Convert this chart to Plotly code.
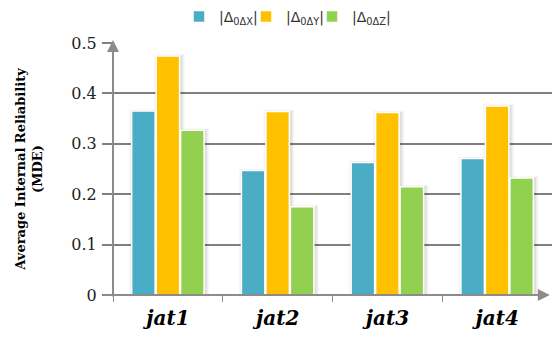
import plotly.graph_objects as go

categories = ["jat1", "jat2", "jat3", "jat4"]
dx_values = [0.365, 0.247, 0.263, 0.271]
dy_values = [0.474, 0.364, 0.362, 0.375]
dz_values = [0.327, 0.175, 0.215, 0.232]
series_names = ["|Δ<sub>0ΔX</sub>|", "|Δ<sub>0ΔY</sub>|", "|Δ<sub>0ΔZ</sub>|"]
series_colors = ["#4BACC6", "#FFC000", "#92D050"]

axis_gray = "#8C8C8C"
grid_gray = "#7F7F7F"

bar_width = 0.214
bar_pitch = 0.223
legend_ids = ["legend", "legend2", "legend3"]
legend_x_px = [179, 246, 312]   # left edge of each legend box, in px

fig = go.Figure()
all_values = [dx_values, dy_values, dz_values]

# soft drop shadow behind each bar
for i, vals in enumerate(all_values):
    center = (i - 1) * bar_pitch
    for grow, alpha in [(0.07, 0.03), (0.045, 0.045), (0.025, 0.055)]:
        w = bar_width + grow
        fig.add_trace(go.Bar(
            x=categories, y=[v + grow * 0.05 for v in vals],
            width=w, offset=center - w / 2 + 0.012,
            marker=dict(color=f"rgba(0,0,0,{alpha})", line=dict(width=0)),
            showlegend=False, hoverinfo="skip",
        ))

for i, (name, vals, col) in enumerate(zip(series_names, all_values, series_colors)):
    center = (i - 1) * bar_pitch
    fig.add_trace(go.Bar(
        x=categories, y=vals, name=name,
        width=bar_width, offset=center - bar_width / 2,
        marker=dict(color=col, line=dict(color="white", width=1.5)),
        legend=legend_ids[i],
    ))

legend_common = dict(
    orientation="h", xref="container", yref="container",
    y=1 - 17 / 340, yanchor="middle", xanchor="left",
    font=dict(family="DejaVu Sans", size=14, color="#333333"),
    itemwidth=30, bgcolor="rgba(0,0,0,0)",
)
legend_layout = {}
for lid, xpx in zip(legend_ids, legend_x_px):
    legend_layout[lid] = dict(legend_common, x=xpx / 552)

fig.update_layout(
    width=552, height=340,
    margin=dict(l=113, r=0, t=43, b=45),
    plot_bgcolor="white", paper_bgcolor="white",
    barmode="overlay",
    showlegend=True,
    xaxis=dict(
        showgrid=False, showline=False, ticks="outside", ticklen=6,
        tickcolor=axis_gray, tickwidth=1, tickson="boundaries",
        ticklabelstandoff=9,
        tickfont=dict(family="DejaVu Serif", size=20, color="#000000",
                      weight="bold", style="italic"),
    ),
    yaxis=dict(
        range=[0, 0.5], dtick=0.1, showgrid=True, gridcolor=grid_gray, gridwidth=1.5,
        zeroline=False, showline=False, ticks="outside", ticklen=10,
        tickcolor=grid_gray, tickwidth=1.5,
        ticklabelstandoff=2,
        tickfont=dict(family="DejaVu Serif", size=16, color="#222222"),
        title=dict(text="Average Internal Reliability<br>(MDE)",
                   font=dict(family="DejaVu Serif", size=13, color="#000000", weight="bold"),
                   standoff=25),
    ),
    **legend_layout,
)

# axis lines with arrow heads
fig.add_annotation(xref="paper", yref="paper", x=0, y=1.012, ax=0, ay=258,
                   axref="pixel", ayref="pixel", showarrow=True, arrowhead=2,
                   arrowsize=1.2, arrowwidth=2, arrowcolor=axis_gray, text="")
fig.add_annotation(xref="paper", yref="paper", x=0.995, y=0, ax=-448, ay=0,
                   showarrow=True, arrowhead=2, arrowsize=1.2, arrowwidth=2,
                   arrowcolor=axis_gray, text="")

fig.write_html("out.html")
